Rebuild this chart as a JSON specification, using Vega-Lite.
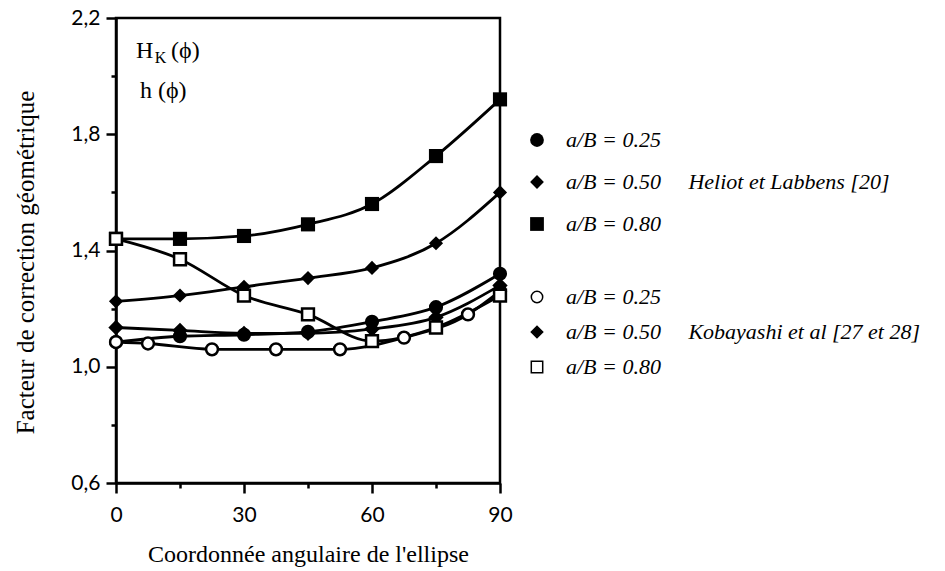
{
  "$schema": "https://vega.github.io/schema/vega-lite/v6.json",
  "width": 384,
  "height": 465,
  "autosize": {"type": "none"},
  "padding": {"left": 116, "top": 18, "right": 445, "bottom": 88},
  "background": "white",
  "config": {
    "view": {"stroke": "black", "strokeWidth": 2.5},
    "axis": {
      "grid": false,
      "domainColor": "black",
      "domainWidth": 2.5,
      "tickColor": "black",
      "tickWidth": 2.5,
      "labelFont": "Lato",
      "labelFontSize": 21,
      "labelColor": "black",
      "labelFlush": false,
      "labelOverlap": false,
      "labelBound": false,
      "titleFont": "Liberation Serif",
      "titleFontSize": 24,
      "titleFontWeight": "normal",
      "titleColor": "black"
    }
  },
  "data": {
    "values": [
      {"src": "Heliot", "aB": "0.80", "phi": 0, "h": 1.44},
      {"src": "Heliot", "aB": "0.80", "phi": 15, "h": 1.44},
      {"src": "Heliot", "aB": "0.80", "phi": 30, "h": 1.45},
      {"src": "Heliot", "aB": "0.80", "phi": 45, "h": 1.49},
      {"src": "Heliot", "aB": "0.80", "phi": 60, "h": 1.56},
      {"src": "Heliot", "aB": "0.80", "phi": 75, "h": 1.725},
      {"src": "Heliot", "aB": "0.80", "phi": 90, "h": 1.92},
      {"src": "Heliot", "aB": "0.50", "phi": 0, "h": 1.225},
      {"src": "Heliot", "aB": "0.50", "phi": 15, "h": 1.245},
      {"src": "Heliot", "aB": "0.50", "phi": 30, "h": 1.275},
      {"src": "Heliot", "aB": "0.50", "phi": 45, "h": 1.305},
      {"src": "Heliot", "aB": "0.50", "phi": 60, "h": 1.34},
      {"src": "Heliot", "aB": "0.50", "phi": 75, "h": 1.425},
      {"src": "Heliot", "aB": "0.50", "phi": 90, "h": 1.6},
      {"src": "Heliot", "aB": "0.25", "phi": 0, "h": 1.085},
      {"src": "Heliot", "aB": "0.25", "phi": 15, "h": 1.105},
      {"src": "Heliot", "aB": "0.25", "phi": 30, "h": 1.11},
      {"src": "Heliot", "aB": "0.25", "phi": 45, "h": 1.12},
      {"src": "Heliot", "aB": "0.25", "phi": 60, "h": 1.155},
      {"src": "Heliot", "aB": "0.25", "phi": 75, "h": 1.205},
      {"src": "Heliot", "aB": "0.25", "phi": 90, "h": 1.32},
      {"src": "Kobayashi", "aB": "0.25", "phi": 0, "h": 1.085},
      {"src": "Kobayashi", "aB": "0.25", "phi": 7.5, "h": 1.08},
      {"src": "Kobayashi", "aB": "0.25", "phi": 22.5, "h": 1.06},
      {"src": "Kobayashi", "aB": "0.25", "phi": 37.5, "h": 1.06},
      {"src": "Kobayashi", "aB": "0.25", "phi": 52.5, "h": 1.06},
      {"src": "Kobayashi", "aB": "0.25", "phi": 67.5, "h": 1.1},
      {"src": "Kobayashi", "aB": "0.25", "phi": 82.5, "h": 1.18},
      {"src": "Kobayashi", "aB": "0.25", "phi": 90, "h": 1.26},
      {"src": "Kobayashi", "aB": "0.50", "phi": 0, "h": 1.135},
      {"src": "Kobayashi", "aB": "0.50", "phi": 15, "h": 1.125},
      {"src": "Kobayashi", "aB": "0.50", "phi": 30, "h": 1.115},
      {"src": "Kobayashi", "aB": "0.50", "phi": 45, "h": 1.115},
      {"src": "Kobayashi", "aB": "0.50", "phi": 60, "h": 1.13},
      {"src": "Kobayashi", "aB": "0.50", "phi": 75, "h": 1.17},
      {"src": "Kobayashi", "aB": "0.50", "phi": 90, "h": 1.28},
      {"src": "Kobayashi", "aB": "0.80", "phi": 0, "h": 1.44},
      {"src": "Kobayashi", "aB": "0.80", "phi": 15, "h": 1.37},
      {"src": "Kobayashi", "aB": "0.80", "phi": 30, "h": 1.245},
      {"src": "Kobayashi", "aB": "0.80", "phi": 45, "h": 1.18},
      {"src": "Kobayashi", "aB": "0.80", "phi": 60, "h": 1.088},
      {"src": "Kobayashi", "aB": "0.80", "phi": 75, "h": 1.135},
      {"src": "Kobayashi", "aB": "0.80", "phi": 90, "h": 1.245}
    ]
  },
  "layer": [
    {
      "mark": {"type": "line", "interpolate": "monotone", "color": "black", "strokeWidth": 2.8},
      "encoding": {
        "x": {
          "field": "phi", "type": "quantitative",
          "scale": {"domain": [0, 90], "nice": false, "zero": false},
          "axis": {
            "values": [0, 15, 30, 45, 60, 75, 90],
            "labelExpr": "datum.value % 30 == 0 ? datum.label : ''",
            "tickSize": {"condition": {"test": "datum.value % 30 == 0", "value": 10}, "value": 5},
            "labelPadding": 11,
            "title": "Coordonnée angulaire de l'ellipse",
            "titleY": 78,
            "titleBaseline": "alphabetic"
          }
        },
        "y": {
          "field": "h", "type": "quantitative",
          "scale": {"domain": [0.6, 2.2], "nice": false, "zero": false},
          "axis": {
            "values": [0.6, 0.8, 1.0, 1.2, 1.4, 1.6, 1.8, 2.0, 2.2],
            "labelExpr": "round(datum.value * 10) % 4 == 2 ? replace(format(datum.value, '.1f'), '.', ',') : ''",
            "tickSize": {"condition": {"test": "round(datum.value * 10) % 4 == 2", "value": 10}, "value": 5},
            "labelPadding": 6,
            "title": "Facteur de correction géométrique",
            "titleFontSize": 25,
            "titleX": -83,
            "titleY": 244,
            "titleBaseline": "alphabetic"
          }
        },
        "detail": [{"field": "src"}, {"field": "aB"}]
      }
    },
    {
      "transform": [{"filter": "datum.src == 'Heliot'"}],
      "mark": {"type": "point", "filled": true, "color": "black", "size": 200, "opacity": 1},
      "encoding": {
        "x": {"field": "phi", "type": "quantitative"},
        "y": {"field": "h", "type": "quantitative"},
        "shape": {
          "field": "aB", "type": "nominal",
          "scale": {"domain": ["0.25", "0.50", "0.80"], "range": ["circle", "diamond", "square"]},
          "legend": {
            "title": null,
            "orient": "none",
            "legendX": 410,
            "legendY": 111,
            "padding": 0,
            "rowPadding": 20,
            "labelOffset": 18,
            "labelLimit": 0,
            "labelFont": "Liberation Serif",
            "labelFontStyle": "italic",
            "labelFontSize": 22,
            "labelColor": "black",
            "symbolSize": 190,
            "symbolFillColor": "black",
            "symbolStrokeColor": "black",
            "symbolStrokeWidth": 1,
            "labelExpr": "'a/B = ' + datum.label + (datum.label == '0.50' ? '\u00a0\u00a0\u00a0\u00a0\u00a0Heliot et Labbens [20]' : '')"
          }
        }
      }
    },
    {
      "transform": [{"filter": "datum.src == 'Kobayashi'"}],
      "mark": {"type": "point", "filled": true, "stroke": "black", "strokeWidth": 2.5, "size": 140, "opacity": 1, "strokeOpacity": 1, "fillOpacity": 1},
      "encoding": {
        "x": {"field": "phi", "type": "quantitative"},
        "y": {"field": "h", "type": "quantitative"},
        "shape": {
          "field": "aB", "type": "nominal",
          "scale": {"domain": ["0.25", "0.50", "0.80"], "range": ["circle", "diamond", "square"]},
          "legend": {
            "title": null,
            "orient": "none",
            "legendX": 410,
            "legendY": 268,
            "padding": 0,
            "rowPadding": 13,
            "labelOffset": 18,
            "labelLimit": 0,
            "labelFont": "Liberation Serif",
            "labelFontStyle": "italic",
            "labelFontSize": 22,
            "labelColor": "black",
            "symbolSize": 130,
            "labelExpr": "'a/B = ' + datum.label + (datum.label == '0.50' ? '\u00a0\u00a0\u00a0\u00a0\u00a0Kobayashi et al [27 et 28]' : '')",
            "encode": {"symbols": {"update": {"stroke": {"value": "black"}, "strokeWidth": {"value": 2.5}, "strokeOpacity": {"value": 1}}}}
          }
        },
        "fill": {
          "field": "aB", "type": "nominal",
          "scale": {"domain": ["0.25", "0.50", "0.80"], "range": ["white", "black", "white"]},
          "legend": {
            "title": null,
            "orient": "none",
            "legendX": 410,
            "legendY": 268,
            "padding": 0,
            "rowPadding": 13,
            "labelOffset": 18,
            "labelLimit": 0,
            "labelFont": "Liberation Serif",
            "labelFontStyle": "italic",
            "labelFontSize": 22,
            "labelColor": "black",
            "symbolSize": 130,
            "labelExpr": "'a/B = ' + datum.label + (datum.label == '0.50' ? '\u00a0\u00a0\u00a0\u00a0\u00a0Kobayashi et al [27 et 28]' : '')",
            "encode": {"symbols": {"update": {"stroke": {"value": "black"}, "strokeWidth": {"value": 2.5}, "strokeOpacity": {"value": 1}}}}
          }
        }
      }
    },
    {
      "data": {"values": [{}]},
      "mark": {"type": "text", "font": "Liberation Serif", "fontSize": 24, "align": "left", "baseline": "alphabetic", "color": "black"},
      "encoding": {
        "x": {"datum": 4.7, "type": "quantitative"},
        "y": {"datum": 2.0625, "type": "quantitative"},
        "text": {"value": "H"}
      }
    },
    {
      "data": {"values": [{}]},
      "mark": {"type": "text", "font": "Liberation Serif", "fontSize": 16, "align": "left", "baseline": "alphabetic", "color": "black"},
      "encoding": {
        "x": {"datum": 9.1, "type": "quantitative"},
        "y": {"datum": 2.045, "type": "quantitative"},
        "text": {"value": "K"}
      }
    },
    {
      "data": {"values": [{}]},
      "mark": {"type": "text", "font": "Liberation Serif", "fontSize": 24, "align": "left", "baseline": "alphabetic", "color": "black"},
      "encoding": {
        "x": {"datum": 12.9, "type": "quantitative"},
        "y": {"datum": 2.0625, "type": "quantitative"},
        "text": {"value": "(ϕ)"}
      }
    },
    {
      "data": {"values": [{}]},
      "mark": {"type": "text", "font": "Liberation Serif", "fontSize": 24, "align": "left", "baseline": "alphabetic", "color": "black"},
      "encoding": {
        "x": {"datum": 5.6, "type": "quantitative"},
        "y": {"datum": 1.925, "type": "quantitative"},
        "text": {"value": "h (ϕ)"}
      }
    }
  ],
  "resolve": {
    "scale": {"shape": "independent", "fill": "independent"},
    "legend": {"shape": "independent", "fill": "independent"}
  }
}
